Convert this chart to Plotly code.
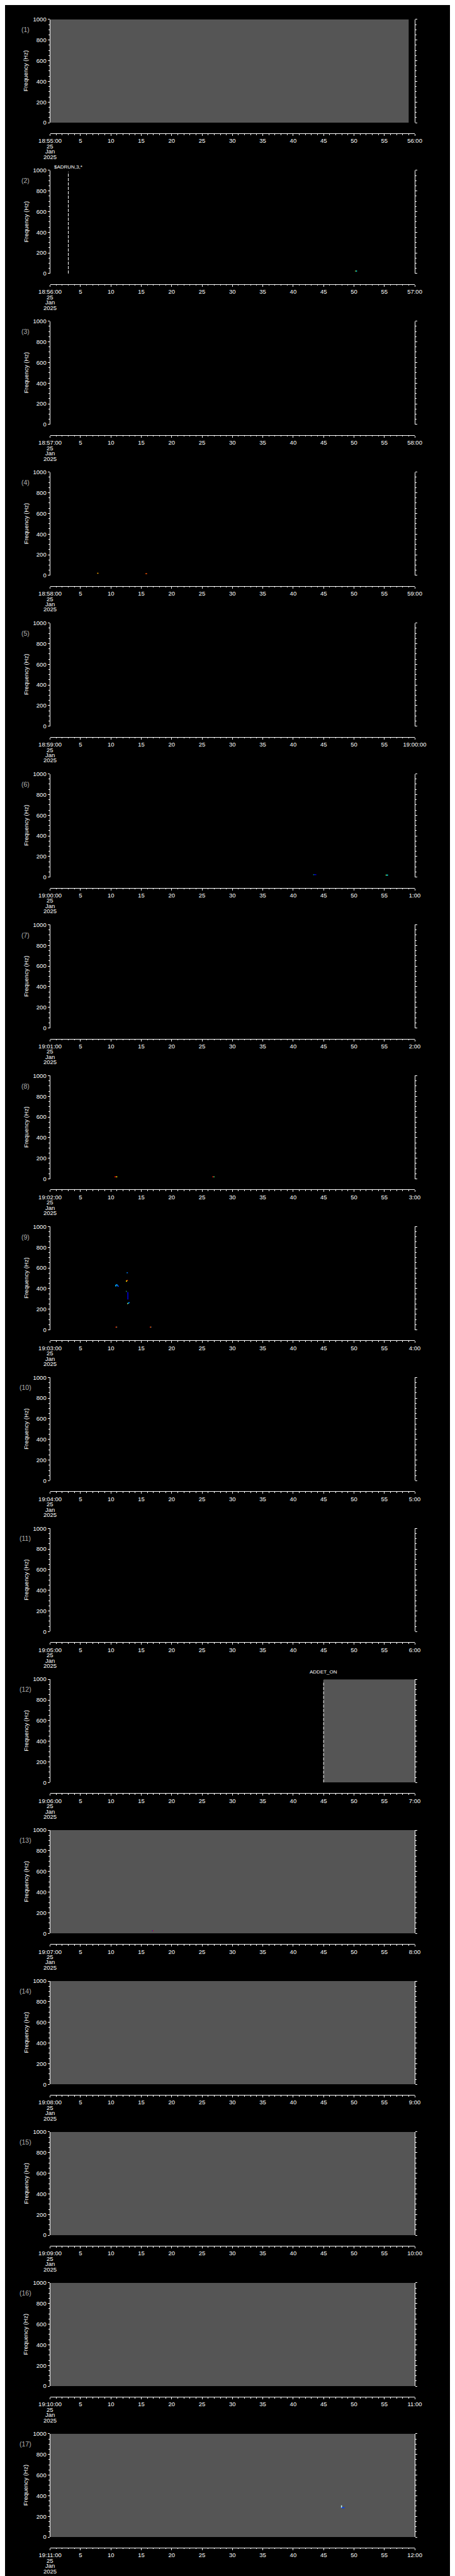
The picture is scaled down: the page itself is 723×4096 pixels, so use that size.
import plotly.graph_objects as go

# ---------------- data ----------------
panel_start = ["18:55:00", "18:56:00", "18:57:00", "18:58:00", "18:59:00", "19:00:00",
               "19:01:00", "19:02:00", "19:03:00", "19:04:00", "19:05:00", "19:06:00",
               "19:07:00", "19:08:00", "19:09:00", "19:10:00", "19:11:00"]
panel_end = ["56:00", "57:00", "58:00", "59:00", "19:00:00", "1:00", "2:00", "3:00", "4:00",
             "5:00", "6:00", "7:00", "8:00", "9:00", "10:00", "11:00", "12:00"]
date_lines = ["25", "Jan", "2025"]
freq_ticks = [0, 200, 400, 600, 800, 1000]
sec_ticks = [0, 5, 10, 15, 20, 25, 30, 35, 40, 45, 50, 55, 60]
sec_tick_text = ["5", "10", "15", "20", "25", "30", "35", "40", "45", "50", "55"]

# gray (no-data) blocks: panel index (1-based), start s, end s
gray_panel = [1, 12, 13, 14, 15, 16, 17]
gray_t0 = [0, 45, 0, 0, 0, 0, 0]
gray_t1 = [59, 60, 60, 60, 60, 60, 60]

# event markers
event_panel = [2, 12]
event_t = [3, 45]
event_label = ["$ADRUN,3,*", "ADDET_ON"]
event_label_offset = [7, 17]   # px above top (reference px)

# spectrogram pixels: panel, t0, t1, f0, f1, colour
seg_panel = [2, 2,
             4, 4,
             6, 6, 6, 6,
             8, 8, 8, 8,
             9, 9, 9, 9, 9, 9, 9, 9, 9, 9, 9, 9, 9, 9, 9, 9, 9, 9, 9, 9, 9,
             13, 13,
             17, 17]
seg_t0 = [50.2, 50.3,
          7.75, 15.7,
          43.3, 43.4, 55.2, 55.3,
          10.6, 10.85, 26.7, 26.9,
          12.6, 12.65, 12.55, 12.6, 10.75, 10.8, 10.85, 11.05, 11.1, 12.5, 12.55, 12.8, 12.7, 12.8, 12.95,
          10.75, 10.9, 11.0, 16.4, 16.55, 16.65,
          16.8, 16.9,
          47.95, 47.95]
seg_t1 = [50.3, 50.5,
          7.95, 15.95,
          43.4, 43.8, 55.3, 55.6,
          10.85, 11.05, 26.9, 27.05,
          12.65, 12.8, 12.6, 12.8, 10.8, 10.85, 11.05, 11.1, 11.3, 12.55, 12.6, 12.8, 12.8, 12.95, 13.1,
          10.9, 11.0, 11.05, 16.55, 16.65, 16.7,
          16.9, 17.0,
          47.95, 48.45]
seg_f0 = [24, 24,
          20, 16,
          24, 24, 20, 20,
          20, 20, 20, 20,
          553, 553, 466, 478, 428, 420, 437, 437, 423, 375, 370, 365, 254, 256, 262,
          26, 26, 26, 26, 26, 26,
          26, 26,
          283, 283]
seg_f1 = [24, 24,
          20, 16,
          24, 24, 20, 20,
          20, 20, 20, 20,
          553, 553, 478, 478, 428, 436, 437, 425, 423, 375, 370, 294, 254, 262, 266,
          26, 26, 26, 26, 26, 26,
          26, 26,
          306, 283]
seg_color = ["#ffff00", "#00ffff",
             "#ffaa00", "#ff5500",
             "#00ff80", "#0000cc", "#ffff00", "#00ffff",
             "#ff0000", "#ffff00", "#ff0000", "#40ff80",
             "#00ffff", "#0060ff", "#ffff00", "#ff4000", "#00ffff", "#00c0ff", "#0090ff", "#0090ff", "#0040ff",
             "#40ffc0", "#40ffc0", "#0000dd", "#ffff40", "#00e0ff", "#0060ff",
             "#ff0000", "#ffff00", "#0000ff", "#ff0000", "#ffff00", "#0000ff",
             "#0000ff", "#ff0000",
             "#c0ffff", "#0040ff"]

# ---------------- geometry (reference px -> output) ----------------
S = 0.705
W, H = 723, 4096
REF_LEFT, REF_RIGHT = 80, 945
REF_TOP0, REF_STEP, REF_PH = 24, 341.25, 233.5
REF_XAX_GAP = 24


def fx(px):
    return px * S / W


def fy(px):
    return 1 - px * S / H


FONT = "Liberation Sans"
fsz = 9.5

fig = go.Figure()
annotations = []
layout = dict(width=W, height=H, margin=dict(l=0, r=0, t=0, b=0),
              paper_bgcolor="black", plot_bgcolor="black", showlegend=False,
              font=dict(family=FONT, color="white", size=fsz))

n_panels = len(panel_start)
for i in range(n_panels):
    k = i + 1
    sfx = "" if k == 1 else str(k)
    top = REF_TOP0 + i * REF_STEP
    bot = top + REF_PH
    xname, yname = "x" + sfx, "y" + sfx
    layout["xaxis" + sfx] = dict(
        domain=[fx(REF_LEFT), fx(REF_RIGHT)], range=[0, 60], anchor="free",
        position=fy(bot + REF_XAX_GAP), side="bottom",
        showgrid=False, zeroline=False, showline=True, linecolor="white", linewidth=1,
        ticks="outside", ticklen=3, tickwidth=1, tickcolor="white",
        tickvals=sec_ticks,
        ticktext=[panel_start[i]] + sec_tick_text + [panel_end[i]],
        tickfont=dict(family=FONT, size=fsz, color="white"),
        minor=dict(tickvals=list(range(0, 61)), ticks="outside", ticklen=1.6,
                   tickcolor="white", tickwidth=1, showgrid=False),
        fixedrange=True,
    )
    layout["yaxis" + sfx] = dict(
        domain=[fy(bot), fy(top)], range=[0, 1000], anchor=xname,
        showgrid=False, zeroline=False, showline=True, linecolor="white", linewidth=1,
        mirror="ticks", ticks="outside", ticklen=3, tickwidth=1, tickcolor="white",
        tickvals=freq_ticks, tickfont=dict(family=FONT, size=fsz, color="white"),
        minor=dict(tickvals=list(range(0, 1001, 50)), ticks="outside", ticklen=1.6,
                   tickcolor="white", tickwidth=1, showgrid=False),
        fixedrange=True,
    )
    # invisible anchor trace so every subplot is drawn
    fig.add_trace(go.Scatter(x=[None], y=[None], mode="markers", hoverinfo="skip",
                             xaxis=xname, yaxis=yname))
    # y title
    annotations.append(dict(xref="paper", yref="paper", x=fx(23), y=fy((top + bot) / 2),
                            text="Frequency (Hz)", textangle=-90, showarrow=False,
                            font=dict(family=FONT, size=fsz, color="white"),
                            xanchor="center", yanchor="middle"))
    # panel number
    annotations.append(dict(xref="paper", yref="paper", x=fx(21), y=fy(top + 23),
                            text="(%d)" % k, showarrow=False,
                            font=dict(family=FONT, size=fsz + 1, color="#b0b0b0"),
                            xanchor="center", yanchor="middle"))
    # date lines under the first tick label
    for j, txt in enumerate(date_lines):
        annotations.append(dict(xref=xname, yref="paper", x=0,
                                y=fy(bot + REF_XAX_GAP + 29 + 12 * j),
                                text=txt, showarrow=False,
                                font=dict(family=FONT, size=fsz, color="white"),
                                xanchor="center", yanchor="middle"))

# gray blocks (filled rectangles in data coordinates)
for p, t0, t1 in zip(gray_panel, gray_t0, gray_t1):
    sfx = "" if p == 1 else str(p)
    fig.add_trace(go.Scatter(x=[t0, t1, t1, t0, t0], y=[0, 0, 1000, 1000, 0],
                             mode="lines", fill="toself", fillcolor="#555555",
                             line=dict(width=0, color="#555555"), hoverinfo="skip",
                             xaxis="x" + sfx, yaxis="y" + sfx))

# spectrogram pixels
for p, a, b, c, d, col in zip(seg_panel, seg_t0, seg_t1, seg_f0, seg_f1, seg_color):
    sfx = "" if p == 1 else str(p)
    fig.add_trace(go.Scatter(x=[a, b], y=[c, d], mode="lines",
                             line=dict(color=col, width=1.6),
                             hoverinfo="skip", xaxis="x" + sfx, yaxis="y" + sfx))

# event lines
for p, t, lab, off in zip(event_panel, event_t, event_label, event_label_offset):
    sfx = "" if p == 1 else str(p)
    top = REF_TOP0 + (p - 1) * REF_STEP
    fig.add_trace(go.Scatter(x=[t, t], y=[0, 985], mode="lines",
                             line=dict(color="white", width=1, dash="5px,2px"),
                             hoverinfo="skip", xaxis="x" + sfx, yaxis="y" + sfx))
    annotations.append(dict(xref="x" + sfx, yref="paper", x=t, y=fy(top - off),
                            text=lab, showarrow=False,
                            font=dict(family=FONT, size=8, color="white"),
                            xanchor="center", yanchor="middle"))

layout["annotations"] = annotations
fig.update_layout(**layout)
fig.write_html("out.html")
